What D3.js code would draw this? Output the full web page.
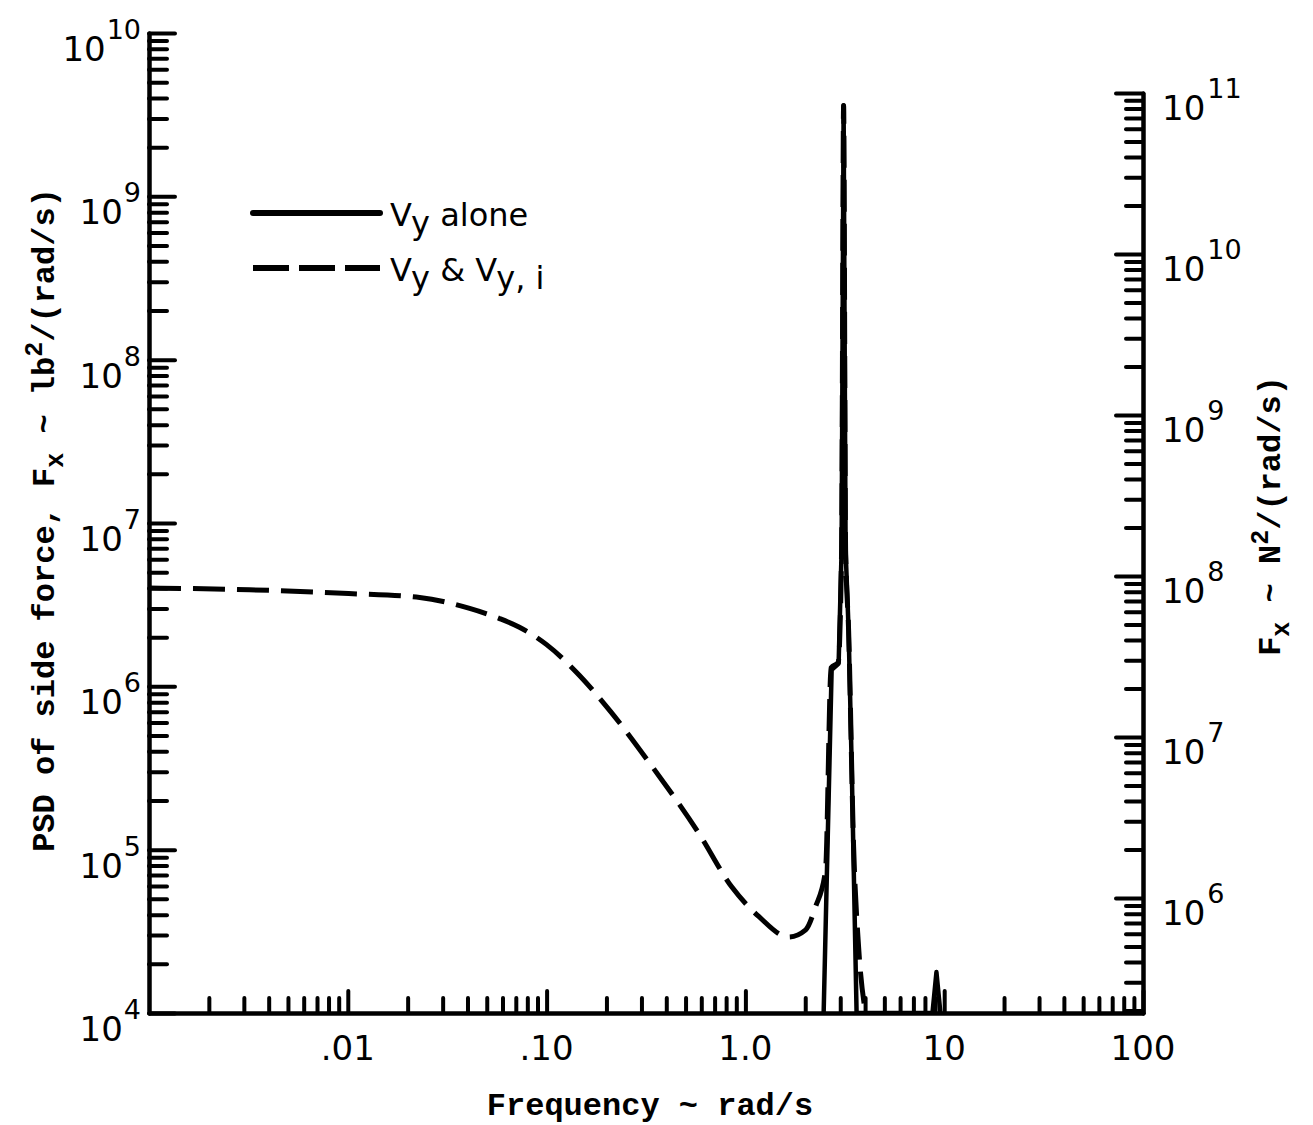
<!DOCTYPE html>
<html>
<head>
<meta charset="utf-8">
<title>PSD of side force</title>
<script src="https://cdn.jsdelivr.net/npm/d3@7"></script>
<style>
  body { margin: 0; background: #fff; }
  text { fill: #000; }
  .num { font-family: "DejaVu Sans", sans-serif; }
  .mono { font-family: "Liberation Mono", "DejaVu Sans Mono", monospace; }
  .axis path, .axis line { stroke: #000; stroke-width: 4; stroke-linecap: round; }
</style>
</head>
<body>
<div id="chart"></div>
<script>

// Vy alone (solid) - frequency in rad/s, PSD in lb^2/(rad/s)
var freqAlone = [2.475, 2.715, 2.944, 3.047, 3.119, 3.192, 3.305, 3.421, 3.625, 8.73, 9.14, 9.57];
var psdAlone  = [1e4, 1.26e6, 1.38e6, 6.8e6, 3.6e9, 6.8e6, 2.2e6, 3.5e5, 1e4, 1e4, 1.78e4, 1e4];

// Vy & Vy,i (dashed)
var freqBoth = [0.001, 0.0032, 0.0101, 0.023, 0.041, 0.058, 0.073, 0.1, 0.146, 0.21, 0.335,
                0.583, 0.855, 1.167, 1.65, 2.01, 2.25, 2.53, 2.70, 2.93, 3.047, 3.119, 3.192,
                3.305, 3.502, 3.71, 4.02];
var psdBoth  = [4.0e6, 3.9e6, 3.7e6, 3.5e6, 3.0e6, 2.6e6, 2.3e6, 1.8e6, 1.17e6, 7.0e5, 3.3e5,
                1.26e5, 5.9e4, 3.9e4, 2.92e4, 3.23e4, 4.45e4, 7.5e4, 1.3e6, 1.4e6, 6.8e6, 3.6e9, 6.8e6,
                2.2e6, 1.04e5, 2.54e4, 1e4];

// tick labels
var xMajor = [0.01, 0.1, 1, 10, 100];
var xLabels = [".01", ".10", "1.0", "10", "100"];
var leftExp = [4, 5, 6, 7, 8, 9, 10];
var rightExp = [6, 7, 8, 9, 10, 11];

var W = 1313, H = 1125;
var svg = d3.select("#chart").append("svg")
  .attr("width", W).attr("height", H);

var x = d3.scaleLog().domain([0.001, 100]).range([149, 1143]);
var yL = d3.scaleLog().domain([1e4, 1e10]).range([1013, 33]);
var yR = d3.scaleLog().domain([Math.pow(10, 5.286), 1e11]).range([1013, 93]);

function isMajor(v) { return Math.abs(Math.log10(v) - Math.round(Math.log10(v))) < 1e-6; }

// bottom axis: minor then major ticks pointing up
var xAll = x.ticks();
svg.append("g").attr("class", "axis")
  .attr("transform", "translate(0,1013)")
  .call(d3.axisBottom(x).tickValues(xAll.filter(function (d) { return !isMajor(d) && d > 0.001; }))
    .tickSize(-15).tickSizeOuter(0).tickFormat(""));
svg.append("g").attr("class", "axis")
  .attr("transform", "translate(0,1013)")
  .call(d3.axisBottom(x).tickValues(xMajor).tickSize(-22).tickSizeOuter(0).tickFormat(""));

svg.selectAll(".xlab").data(xMajor).enter().append("text")
  .attr("class", "num")
  .attr("x", function (d) { return x(d); })
  .attr("y", 1060)
  .attr("text-anchor", "middle")
  .style("font-size", "34px")
  .text(function (d, i) { return xLabels[i]; });

// left axis
var yLAll = yL.ticks();
svg.append("g").attr("class", "axis")
  .attr("transform", "translate(149,0)")
  .call(d3.axisLeft(yL).tickValues(yLAll.filter(function (d) { return !isMajor(d); }))
    .tickSize(-18).tickSizeOuter(0).tickFormat(""));
svg.append("g").attr("class", "axis")
  .attr("transform", "translate(149,0)")
  .call(d3.axisLeft(yL).tickValues(leftExp.map(function (e) { return Math.pow(10, e); }))
    .tickSize(-26).tickSizeOuter(0).tickFormat(""));

var ll = svg.selectAll(".ylab").data(leftExp).enter().append("text")
  .attr("class", "num")
  .attr("x", 141)
  .attr("y", function (e) { return yL(Math.pow(10, e)) + 28; })
  .attr("text-anchor", "end");
ll.append("tspan").style("font-size", "34px").text("10");
ll.append("tspan").style("font-size", "27px").attr("dx", 1).attr("dy", -22).text(function (e) { return e; });

// right axis (N^2/(rad/s))
var yRAll = yR.ticks();
svg.append("g").attr("class", "axis")
  .attr("transform", "translate(1143,0)")
  .call(d3.axisRight(yR).tickValues(yRAll.filter(function (d) { return !isMajor(d); }))
    .tickSize(-17).tickSizeOuter(0).tickFormat(""));
svg.append("g").attr("class", "axis")
  .attr("transform", "translate(1143,0)")
  .call(d3.axisRight(yR).tickValues(rightExp.map(function (e) { return Math.pow(10, e); }))
    .tickSize(-27).tickSizeOuter(0).tickFormat(""));

var rl = svg.selectAll(".rlab").data(rightExp).enter().append("text")
  .attr("class", "num")
  .attr("x", 1162)
  .attr("y", function (e) { return yR(Math.pow(10, e)) + 27; });
rl.append("tspan").style("font-size", "34px").text("10");
rl.append("tspan").style("font-size", "27px").attr("dx", 2).attr("dy", -22).text(function (e) { return e; });

// axis titles
svg.append("text").attr("class", "mono")
  .attr("x", 650).attr("y", 1115)
  .attr("text-anchor", "middle")
  .style("font-size", "32px").style("font-weight", "bold")
  .text("Frequency ~ rad/s");

var lt = svg.append("text").attr("class", "mono")
  .attr("transform", "translate(54,520) rotate(-90)")
  .attr("text-anchor", "middle")
  .style("font-size", "32px").style("font-weight", "bold");
lt.append("tspan").text("PSD of side force, F");
lt.append("tspan").attr("dy", 9).style("font-size", "25px").text("x");
lt.append("tspan").attr("dy", -9).text(" ~ lb");
lt.append("tspan").attr("dy", -12).style("font-size", "25px").text("2");
lt.append("tspan").attr("dy", 12).text("/(rad/s)");

var rt = svg.append("text").attr("class", "mono")
  .attr("transform", "translate(1280,516) rotate(-90)")
  .attr("text-anchor", "middle")
  .style("font-size", "32px").style("font-weight", "bold");
rt.append("tspan").text("F");
rt.append("tspan").attr("dy", 9).style("font-size", "25px").text("x");
rt.append("tspan").attr("dy", -9).text(" ~ N");
rt.append("tspan").attr("dy", -12).style("font-size", "25px").text("2");
rt.append("tspan").attr("dy", 12).text("/(rad/s)");

// data lines
svg.append("clipPath").attr("id", "plot")
  .append("rect").attr("x", 149).attr("y", 20).attr("width", 994).attr("height", 995);

var lineGen = d3.line()
  .x(function (d) { return x(d[0]); })
  .y(function (d) { return yL(d[1]); });

svg.append("path")
  .datum(d3.zip(freqBoth, psdBoth))
  .attr("clip-path", "url(#plot)")
  .attr("d", lineGen.curve(d3.curveMonotoneX))
  .attr("fill", "none").attr("stroke", "#000").attr("stroke-width", 5)
  .attr("stroke-dasharray", "32,12");

svg.append("path")
  .datum(d3.zip(freqAlone, psdAlone))
  .attr("clip-path", "url(#plot)")
  .attr("d", lineGen.curve(d3.curveLinear))
  .attr("fill", "none").attr("stroke", "#000").attr("stroke-width", 4.5)
  .attr("stroke-linejoin", "round");

// legend
var legend = svg.append("g");
legend.append("line").attr("x1", 253).attr("x2", 380).attr("y1", 213).attr("y2", 213)
  .attr("stroke", "#000").attr("stroke-width", 6).attr("stroke-linecap", "round");
legend.append("line").attr("x1", 253).attr("x2", 380).attr("y1", 268).attr("y2", 268)
  .attr("stroke", "#000").attr("stroke-width", 6).attr("stroke-dasharray", "36,10");

var t1 = legend.append("text").attr("class", "num").attr("x", 390).attr("y", 226).style("font-size", "32px");
t1.append("tspan").text("V");
t1.append("tspan").attr("dy", 8).text("y");
t1.append("tspan").attr("dy", -8).text(" alone");

var t2 = legend.append("text").attr("class", "num").attr("x", 390).attr("y", 281).style("font-size", "32px");
t2.append("tspan").text("V");
t2.append("tspan").attr("dy", 8).text("y");
t2.append("tspan").attr("dy", -8).text(" & V");
t2.append("tspan").attr("dy", 8).text("y, i");

</script>
</body>
</html>
